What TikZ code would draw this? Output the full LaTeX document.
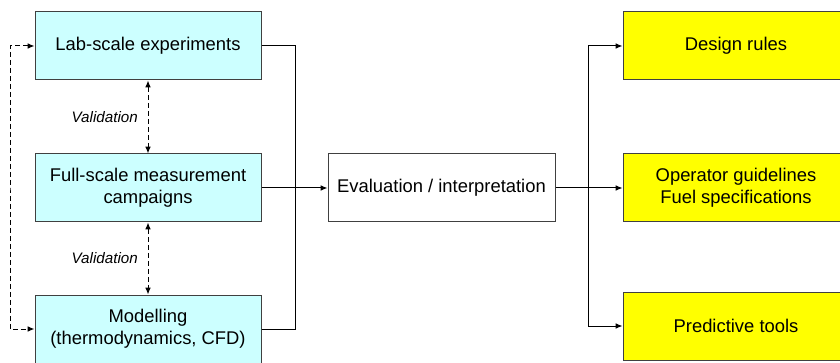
\documentclass[tikz,border=0pt]{standalone}
\usepackage{fontspec}
\setmainfont{Liberation Sans}
\usepackage{tikz}
\usetikzlibrary{arrows.meta}

\definecolor{boxcyan}{HTML}{CCFFFF}
\definecolor{boxyellow}{HTML}{FFFF00}
\definecolor{boxline}{HTML}{404040}

\begin{document}
\begin{tikzpicture}[
    x=0.5pt, y=-0.5pt,
    box/.style={rectangle, draw=boxline, line width=0.5pt, minimum width=113pt, minimum height=34pt,
                align=center, inner sep=1pt, font=\fontsize{9.2}{11}\selectfont},
    source/.style={box, fill=boxcyan},
    result/.style={box, fill=boxyellow},
    flow/.style={-{Latex[length=3.4pt, width=2.8pt]}, line width=0.5pt},
    valid/.style={{Latex[length=3.4pt, width=2.8pt]}-{Latex[length=3.4pt, width=2.8pt]}, line width=0.5pt,
                  dash pattern=on 2.5pt off 1.5pt},
    vlabel/.style={left, xshift=-1.5pt, font=\fontsize{7.6}{9}\selectfont\itshape}
]
\useasboundingbox (0,0) rectangle (840,363);

% Eingangsseite
\node[source] (lab)   at (148,46)  {Lab-scale experiments};
\node[source] (full)  at (148,188) {Full-scale measurement\\campaigns};
\node[source] (model) at (148,329) {Modelling\\(thermodynamics, CFD)};

% Mitte
\node[box, minimum width=113.5pt] (eval) at (441.5,188) {Evaluation / interpretation};

% Ergebnisse
\node[result] (design) at (736,46)  {Design rules};
\node[result] (oper)   at (736,188) {Operator guidelines\\Fuel specifications};
\node[result] (pred)   at (736,326) {Predictive tools};

% Hilfspunkte
\coordinate (join)  at (295,188);
\coordinate (split) at (588,188);
\coordinate (loop)  at (10,188);

% Sammeln
\draw[line width=0.5pt] (lab.east) -| (join);
\draw[line width=0.5pt] (model.east) -| (join);
\draw[flow] (full.east) -- (eval.west);

% Verteilen
\draw[flow] (eval.east) -- (oper.west);
\draw[flow] (split) |- (design.west);
\draw[flow] (split) |- (pred.west);

% Validierung
\draw[valid] (lab.south) -- node[vlabel] {Validation} (full.north);
\draw[valid] (full.south) -- node[vlabel] {Validation} (model.north);
\draw[valid] (lab.west) -| (loop) |- (model.west);

\end{tikzpicture}
\end{document}
